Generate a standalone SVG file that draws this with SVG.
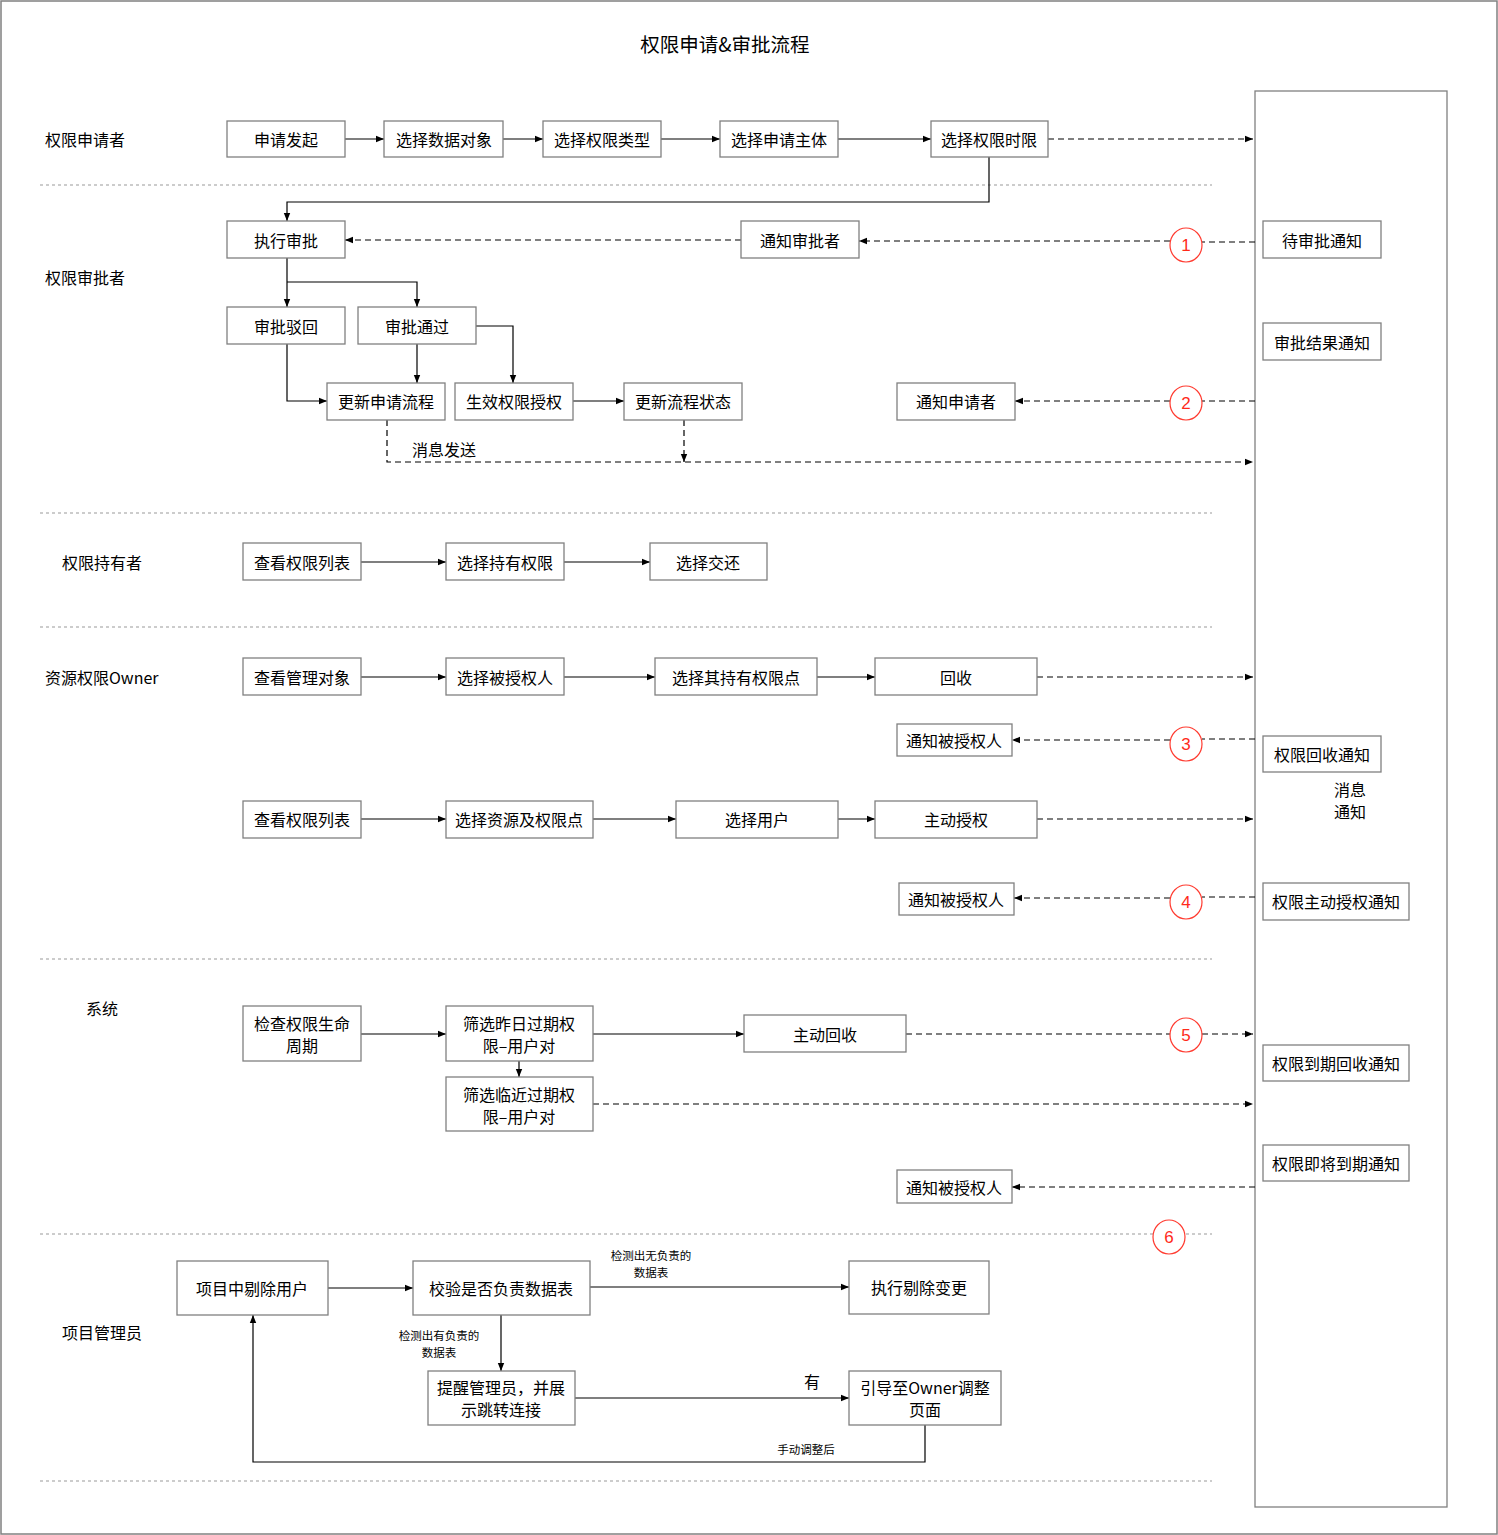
<svg xmlns="http://www.w3.org/2000/svg" width="1498" height="1535" viewBox="0 0 1498 1535">
<defs>
<marker id="arr" viewBox="0 0 10 10" refX="10" refY="5" markerWidth="10" markerHeight="8" markerUnits="userSpaceOnUse" orient="auto"><path d="M0,1 L10,5 L0,9 z" fill="#000"/></marker>
</defs>
<style>
text{font-family:"Noto Sans CJK SC","Liberation Sans",sans-serif;fill:#000;}
.t{font-size:16px;text-anchor:middle;dominant-baseline:central;}
.lane{font-size:16px;dominant-baseline:central;}
.s{font-size:11.5px;text-anchor:middle;dominant-baseline:central;}
.box{fill:#fff;stroke:#808080;stroke-width:1.3;}
.sep{stroke:#999;stroke-width:1;stroke-dasharray:3 3;fill:none;}
.c{fill:none;stroke:#000;stroke-width:1.2;}
.d{fill:none;stroke:#000;stroke-width:1.2;stroke-dasharray:6 4;}
.a{marker-end:url(#arr);}
.num{fill:#fff;stroke:#ff3b30;stroke-width:1.2;}
.nt{font-size:17px;text-anchor:middle;dominant-baseline:central;fill:#ff2a1a;font-family:"Liberation Sans",sans-serif;}
</style>
<rect x="1" y="1" width="1496" height="1533" fill="#fff" stroke="#808080" stroke-width="1.5"/>
<text x="725" y="43" style="font-size:19.5px;text-anchor:middle;dominant-baseline:central;">权限申请&amp;审批流程</text>

<g id="lanes">
<text class="lane" x="45" y="139">权限申请者</text>
<text class="lane" x="45" y="277">权限审批者</text>
<text class="lane" x="62" y="562">权限持有者</text>
<text class="lane" x="45" y="677">资源权限Owner</text>
<text class="lane" x="86" y="1008">系统</text>
<text class="lane" x="62" y="1332">项目管理员</text>
<path class="sep" d="M40,185H1212M40,513H1212M40,627H1212M40,959H1212M40,1234H1212M40,1481H1212"/>
</g>

<g id="notify-panel"><rect class="box" x="1255" y="91" width="192" height="1416"/></g>

<g id="connectors">
<path class="c a" d="M345,139H384"/>
<path class="c a" d="M503,139H543"/>
<path class="c a" d="M661,139H720"/>
<path class="c a" d="M838,139H931"/>
<path class="d a" d="M1048,139H1253"/>
<path class="c a" d="M989,157V202H287V221"/>
<path class="d a" d="M741,240H345"/>
<path class="d" d="M1255,242H1202"/>
<path class="d a" d="M1170,241H859"/>
<path class="c a" d="M287,258V307"/>
<path class="c a" d="M287,282H417V307"/>
<path class="c a" d="M287,344V401H327"/>
<path class="c a" d="M417,344V383"/>
<path class="c a" d="M476,326H513V383"/>
<path class="c a" d="M573,401H624"/>
<path class="d" d="M1255,401H1202"/>
<path class="d a" d="M1170,401H1015"/>
<path class="d a" d="M387,420V462H1253"/>
<path class="d a" d="M684,420V462"/>
<path class="c a" d="M361,562H446"/>
<path class="c a" d="M564,562H650"/>
<path class="c a" d="M361,677H446"/>
<path class="c a" d="M564,677H655"/>
<path class="c a" d="M817,677H875"/>
<path class="d a" d="M1037,677H1253"/>
<path class="d" d="M1255,739H1202"/>
<path class="d a" d="M1170,740H1012"/>
<path class="c a" d="M361,819H446"/>
<path class="c a" d="M593,819H676"/>
<path class="c a" d="M838,819H875"/>
<path class="d a" d="M1037,819H1253"/>
<path class="d" d="M1255,897H1202"/>
<path class="d a" d="M1170,898H1014"/>
<path class="c a" d="M361,1034H446"/>
<path class="c a" d="M593,1034H744"/>
<path class="c a" d="M519,1061V1077"/>
<path class="d" d="M906,1034H1170"/>
<path class="d a" d="M1202,1034H1253"/>
<path class="d a" d="M593,1104H1253"/>
<path class="d a" d="M1255,1187H1012"/>
<path class="c a" d="M328,1288H413"/>
<path class="c a" d="M590,1287H849"/>
<path class="c a" d="M501,1315V1371"/>
<path class="c a" d="M575,1398H849"/>
<path class="c a" d="M925,1425V1462H253V1315"/>
<text class="t" x="444" y="449">消息发送</text>
<text class="s" x="651" y="1255">检测出无负责的</text>
<text class="s" x="651" y="1272">数据表</text>
<text class="s" x="439" y="1335">检测出有负责的</text>
<text class="s" x="439" y="1352">数据表</text>
<text class="t" x="812" y="1381">有</text>
<text class="s" x="806" y="1449">手动调整后</text>
</g>

<g id="n1"><rect class="box" x="227" y="121" width="118" height="36"/><text class="t" x="286" y="139">申请发起</text></g>
<g id="n2"><rect class="box" x="384" y="121" width="119" height="36"/><text class="t" x="444" y="139">选择数据对象</text></g>
<g id="n3"><rect class="box" x="543" y="121" width="118" height="36"/><text class="t" x="602" y="139">选择权限类型</text></g>
<g id="n4"><rect class="box" x="720" y="121" width="118" height="36"/><text class="t" x="779" y="139">选择申请主体</text></g>
<g id="n5"><rect class="box" x="931" y="121" width="117" height="36"/><text class="t" x="989" y="139">选择权限时限</text></g>

<g id="n6"><rect class="box" x="227" y="221" width="118" height="37"/><text class="t" x="286" y="240">执行审批</text></g>
<g id="n7"><rect class="box" x="741" y="221" width="118" height="37"/><text class="t" x="800" y="240">通知审批者</text></g>
<g id="n8"><rect class="box" x="1263" y="221" width="118" height="37"/><text class="t" x="1322" y="240">待审批通知</text></g>
<g id="n9"><rect class="box" x="227" y="307" width="118" height="37"/><text class="t" x="286" y="326">审批驳回</text></g>
<g id="n10"><rect class="box" x="358" y="307" width="118" height="37"/><text class="t" x="417" y="326">审批通过</text></g>
<g id="n11"><rect class="box" x="1263" y="323" width="118" height="37"/><text class="t" x="1322" y="342">审批结果通知</text></g>
<g id="n12"><rect class="box" x="327" y="383" width="118" height="37"/><text class="t" x="386" y="401">更新申请流程</text></g>
<g id="n13"><rect class="box" x="455" y="383" width="118" height="37"/><text class="t" x="514" y="401">生效权限授权</text></g>
<g id="n14"><rect class="box" x="624" y="383" width="118" height="37"/><text class="t" x="683" y="401">更新流程状态</text></g>
<g id="n15"><rect class="box" x="897" y="383" width="118" height="37"/><text class="t" x="956" y="401">通知申请者</text></g>

<g id="n16"><rect class="box" x="243" y="543" width="118" height="37"/><text class="t" x="302" y="562">查看权限列表</text></g>
<g id="n17"><rect class="box" x="446" y="543" width="118" height="37"/><text class="t" x="505" y="562">选择持有权限</text></g>
<g id="n18"><rect class="box" x="650" y="543" width="117" height="37"/><text class="t" x="708" y="562">选择交还</text></g>

<g id="n19"><rect class="box" x="243" y="658" width="118" height="37"/><text class="t" x="302" y="677">查看管理对象</text></g>
<g id="n20"><rect class="box" x="446" y="658" width="118" height="37"/><text class="t" x="505" y="677">选择被授权人</text></g>
<g id="n21"><rect class="box" x="655" y="658" width="162" height="37"/><text class="t" x="736" y="677">选择其持有权限点</text></g>
<g id="n22"><rect class="box" x="875" y="658" width="162" height="37"/><text class="t" x="956" y="677">回收</text></g>
<g id="n23"><rect class="box" x="897" y="724" width="115" height="32"/><text class="t" x="954" y="740">通知被授权人</text></g>
<g id="n24"><rect class="box" x="1263" y="736" width="118" height="36"/><text class="t" x="1322" y="754">权限回收通知</text></g>
<g id="n25"><text class="t" x="1350" y="789">消息</text><text class="t" x="1350" y="811">通知</text></g>
<g id="n26"><rect class="box" x="243" y="801" width="118" height="37"/><text class="t" x="302" y="819">查看权限列表</text></g>
<g id="n27"><rect class="box" x="446" y="801" width="147" height="37"/><text class="t" x="519" y="819">选择资源及权限点</text></g>
<g id="n28"><rect class="box" x="676" y="801" width="162" height="37"/><text class="t" x="757" y="819">选择用户</text></g>
<g id="n29"><rect class="box" x="875" y="801" width="162" height="37"/><text class="t" x="956" y="819">主动授权</text></g>
<g id="n30"><rect class="box" x="899" y="883" width="115" height="32"/><text class="t" x="956" y="899">通知被授权人</text></g>
<g id="n31"><rect class="box" x="1263" y="883" width="146" height="37"/><text class="t" x="1336" y="901">权限主动授权通知</text></g>

<g id="n32"><rect class="box" x="243" y="1006" width="118" height="55"/><text class="t" x="302" y="1023">检查权限生命</text><text class="t" x="302" y="1045">周期</text></g>
<g id="n33"><rect class="box" x="446" y="1006" width="147" height="55"/><text class="t" x="519" y="1023">筛选昨日过期权</text><text class="t" x="519" y="1045">限–用户对</text></g>
<g id="n34"><rect class="box" x="744" y="1015" width="162" height="37"/><text class="t" x="825" y="1034">主动回收</text></g>
<g id="n35"><rect class="box" x="446" y="1077" width="147" height="54"/><text class="t" x="519" y="1094">筛选临近过期权</text><text class="t" x="519" y="1116">限–用户对</text></g>
<g id="n36"><rect class="box" x="1263" y="1045" width="146" height="36"/><text class="t" x="1336" y="1063">权限到期回收通知</text></g>
<g id="n37"><rect class="box" x="1263" y="1145" width="146" height="36"/><text class="t" x="1336" y="1163">权限即将到期通知</text></g>
<g id="n38"><rect class="box" x="897" y="1170" width="115" height="33"/><text class="t" x="954" y="1187">通知被授权人</text></g>

<g id="n39"><rect class="box" x="177" y="1261" width="151" height="54"/><text class="t" x="252" y="1288">项目中剔除用户</text></g>
<g id="n40"><rect class="box" x="413" y="1261" width="177" height="54"/><text class="t" x="501" y="1288">校验是否负责数据表</text></g>
<g id="n41"><rect class="box" x="849" y="1261" width="140" height="53"/><text class="t" x="919" y="1287">执行剔除变更</text></g>
<g id="n42"><rect class="box" x="428" y="1371" width="147" height="54"/><text class="t" x="501" y="1387">提醒管理员，并展</text><text class="t" x="501" y="1409">示跳转连接</text></g>
<g id="n43"><rect class="box" x="849" y="1371" width="152" height="54"/><text class="t" x="925" y="1387">引导至Owner调整</text><text class="t" x="925" y="1409">页面</text></g>

<g id="badges">
<ellipse class="num" cx="1186" cy="245" rx="16" ry="17"/><text class="nt" x="1186" y="245">1</text>
<ellipse class="num" cx="1186" cy="403" rx="16" ry="17"/><text class="nt" x="1186" y="403">2</text>
<ellipse class="num" cx="1186" cy="744" rx="16" ry="17"/><text class="nt" x="1186" y="744">3</text>
<ellipse class="num" cx="1186" cy="902" rx="16" ry="17"/><text class="nt" x="1186" y="902">4</text>
<ellipse class="num" cx="1186" cy="1035" rx="16" ry="17"/><text class="nt" x="1186" y="1035">5</text>
<ellipse class="num" cx="1169" cy="1237" rx="16" ry="17"/><text class="nt" x="1169" y="1237">6</text>
</g>
</svg>
